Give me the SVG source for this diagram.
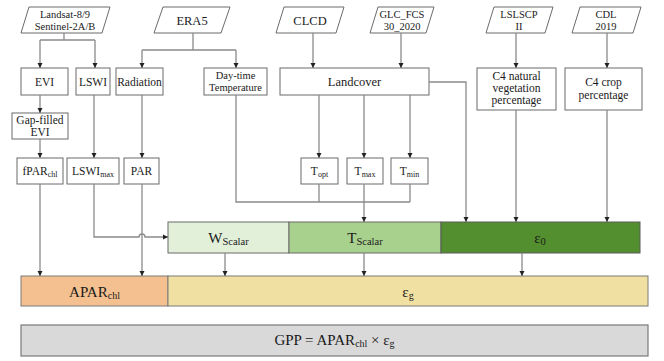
<svg xmlns="http://www.w3.org/2000/svg" width="664" height="361" viewBox="0 0 664 361">
<defs>
<marker id="ah" markerUnits="userSpaceOnUse" markerWidth="6" markerHeight="6" refX="5" refY="3" orient="auto">
<path d="M0,0.5 L5,3 L0,5.5 Z" fill="#222"/>
</marker>
<style>
text{font-family:"Liberation Serif","Times New Roman",serif;fill:#1a1a1a;text-anchor:middle}
.pg{fill:#fff;stroke:#6b6b6b;stroke-width:1}
.bx{fill:#fff;stroke:#6b6b6b;stroke-width:1}
.s{font-size:10.5px}
.m{font-size:11.5px}
.l{font-size:12.5px}
.b{font-size:15px}
.c{fill:none;stroke:#8a8a8a;stroke-width:1.3}
.a{marker-end:url(#ah)}
</style>
</defs>
<rect width="664" height="361" fill="#fff"/>

<g id="landsat"><polygon class="pg" points="29,7 110,7 102,33 21,33"/><text class="s" x="65" y="18">Landsat-8/9</text><text class="s" x="65" y="30">Sentinel-2A/B</text></g>
<g id="era5"><polygon class="pg" points="163,7 230,7 221,33 154,33"/><text class="l" x="192" y="24.5">ERA5</text></g>
<g id="clcd"><polygon class="pg" points="284,7 344,7 336,33 276,33"/><text class="l" x="310" y="24.5">CLCD</text></g>
<g id="glc"><polygon class="pg" points="378,7 434,7 426,33 370,33"/><text class="s" x="402" y="18">GLC_FCS</text><text class="s" x="402" y="30">30_2020</text></g>
<g id="lslscp"><polygon class="pg" points="494,7 553,7 545,33 486,33"/><text class="s" x="519" y="18">LSLSCP</text><text class="s" x="519" y="30">II</text></g>
<g id="cdl"><polygon class="pg" points="580,7 641,7 633,33 572,33"/><text class="s" x="606" y="18">CDL</text><text class="s" x="606" y="30">2019</text></g>

<g id="evi"><rect class="bx" x="21" y="68" width="47" height="27"/><text class="m" x="44.5" y="86">EVI</text></g>
<g id="lswi"><rect class="bx" x="76" y="68" width="34" height="27"/><text class="m" x="93" y="86">LSWI</text></g>
<g id="radiation"><rect class="bx" x="116" y="68" width="47" height="27"/><text class="m" x="139.5" y="86">Radiation</text></g>
<g id="daytemp"><rect class="bx" x="204" y="68" width="63" height="27"/><text class="s" x="235.5" y="79">Day-time</text><text class="s" x="235.5" y="91">Temperature</text></g>
<g id="landcover"><rect class="bx" x="280" y="68" width="149" height="27"/><text class="l" x="354.5" y="86">Landcover</text></g>
<g id="c4nat"><rect class="bx" x="477" y="68" width="79" height="42"/><text class="m" x="516.5" y="80">C4 natural</text><text class="m" x="516.5" y="92">vegetation</text><text class="m" x="516.5" y="104">percentage</text></g>
<g id="c4crop"><rect class="bx" x="565" y="68" width="77" height="42"/><text class="m" x="603.5" y="86">C4 crop</text><text class="m" x="603.5" y="99">percentage</text></g>

<g id="gapevi"><rect class="bx" x="12" y="113" width="56" height="26"/><text class="m" x="40" y="124">Gap-filled</text><text class="m" x="40" y="136">EVI</text></g>

<g id="fpar"><rect class="bx" x="17" y="158" width="46" height="26"/><text class="m" x="40" y="175">fPAR<tspan font-size="8" dy="2">chl</tspan></text></g>
<g id="lswimax"><rect class="bx" x="67" y="158" width="52" height="26"/><text class="m" x="93" y="175">LSWI<tspan font-size="8" dy="2">max</tspan></text></g>
<g id="par"><rect class="bx" x="124" y="158" width="35" height="26"/><text class="m" x="141.5" y="175">PAR</text></g>
<g id="topt"><rect class="bx" x="301" y="158" width="37" height="26"/><text class="m" x="319.5" y="175">T<tspan font-size="8" dy="2">opt</tspan></text></g>
<g id="tmax"><rect class="bx" x="347" y="158" width="36" height="26"/><text class="m" x="365" y="175">T<tspan font-size="8" dy="2">max</tspan></text></g>
<g id="tmin"><rect class="bx" x="391" y="158" width="37" height="26"/><text class="m" x="409.5" y="175">T<tspan font-size="8" dy="2">min</tspan></text></g>

<g id="wscalar"><rect x="168" y="222" width="121" height="31" fill="#e2f0d9" stroke="#6b6b6b"/><text class="b" x="228.5" y="243">W<tspan font-size="10.5" dy="2">Scalar</tspan></text></g>
<g id="tscalar"><rect x="289" y="222" width="152" height="31" fill="#a9d18e" stroke="#6b6b6b"/><text class="b" x="365" y="243">T<tspan font-size="10.5" dy="2">Scalar</tspan></text></g>
<g id="eps0"><rect x="441" y="222" width="199" height="31" fill="#548f2f" stroke="#5a5a5a"/><text class="b" x="540" y="243">ε<tspan font-size="10.5" dy="2">0</tspan></text></g>

<g id="apar"><rect x="21" y="276" width="147" height="30" fill="#f4c08f" stroke="#7a7a7a"/><text class="b" x="94.5" y="297">APAR<tspan font-size="10" dy="2">chl</tspan></text></g>
<g id="epsg"><rect x="168" y="276" width="480" height="30" fill="#f0e1a2" stroke="#7a7a7a"/><text class="b" x="408" y="297">ε<tspan font-size="10" dy="2">g</tspan></text></g>

<g id="gpp"><rect x="21" y="325" width="627" height="31" fill="#d9d9d9" stroke="#7a7a7a" stroke-width="1.2"/><text class="b" x="334.5" y="345">GPP = APAR<tspan font-size="10" dy="2">chl</tspan><tspan dy="-2"> × ε</tspan><tspan font-size="10" dy="2">g</tspan></text></g>

<g id="connectors">
<path class="c" d="M64,33 V40 M40,40 H95"/>
<path class="c a" d="M40,40 V68"/>
<path class="c a" d="M95,40 V68"/>
<path class="c" d="M193,33 V50 M142,50 H236"/>
<path class="c a" d="M142,50 V68"/>
<path class="c a" d="M236,50 V68"/>
<path class="c a" d="M313,33 V68"/>
<path class="c a" d="M401,33 V68"/>
<path class="c a" d="M516,33 V68"/>
<path class="c a" d="M607,33 V68"/>
<path class="c a" d="M40,95 V113"/>
<path class="c a" d="M40,139 V158"/>
<path class="c a" d="M94,95 V158"/>
<path class="c a" d="M142,95 V158"/>
<path class="c a" d="M319,95 V158"/>
<path class="c a" d="M364,95 V158"/>
<path class="c a" d="M410,95 V158"/>
<path class="c a" d="M429,82 H466 V222"/>
<path class="c a" d="M516,110 V222"/>
<path class="c a" d="M607,110 V222"/>
<path class="c" d="M236,95 V202 H410 M319,184 V202 M410,184 V202"/>
<path class="c a" d="M364,184 V222"/>
<path class="c a" d="M94,184 V237 H139 A3,3 0 0 1 145,237 H168"/>
<path class="c a" d="M40,184 V276"/>
<path class="c a" d="M142,184 V276"/>
<path class="c a" d="M225,253 V276"/>
<path class="c a" d="M364,253 V276"/>
<path class="c a" d="M522,253 V276"/>
</g>
</svg>
